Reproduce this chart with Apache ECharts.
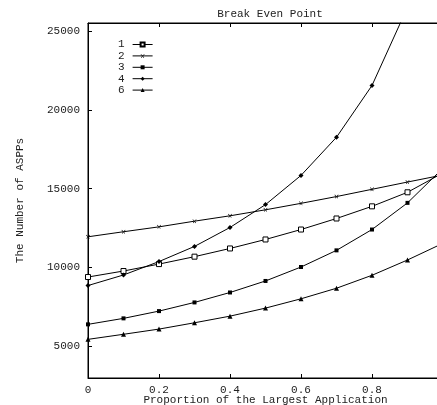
<!DOCTYPE html>
<html>
<head>
<meta charset="utf-8">
<script src="https://cdn.jsdelivr.net/npm/echarts@6/dist/echarts.min.js"></script>
<style>html,body{margin:0;padding:0;background:#fff;}#c{width:437px;height:405px;}</style>
</head>
<body>
<div id="c"></div>
<script>
const xValues = [0, 0.1, 0.2, 0.3, 0.4, 0.5, 0.6, 0.7, 0.8, 0.9, 1.0];
const s1 = [9400, 9780, 10220, 10690, 11210, 11780, 12410, 13110, 13880, 14770, 16000];
const s2 = [11950, 12270, 12580, 12940, 13280, 13660, 14070, 14500, 14960, 15420, 15870];
const s3 = [6400, 6780, 7240, 7790, 8420, 9150, 10035, 11090, 12410, 14100, 16300];
const s4 = [8860, 9530, 10380, 11340, 12540, 13990, 15840, 18260, 21540, 26500, 33000];
const s6 = [5450, 5770, 6100, 6500, 6920, 7430, 8020, 8690, 9510, 10480, 11540];
const seriesNames = ['1', '2', '3', '4', '6'];
const yTickValues = [5000, 10000, 15000, 20000, 25000];

const FONT = 'Liberation Mono';
const TXT = '#222';

function pts(arr) { return xValues.map((x, i) => [x, arr[i]]); }

const symbols = {
  '1': { symbol: 'rect', symbolSize: 5, itemStyle: { color: '#fff', borderColor: '#000', borderWidth: 1 } },
  '2': { symbol: 'path://M1,1L9,9L8,10L0,2ZM9,1L1,9L2,10L10,2Z', symbolSize: 4, itemStyle: { color: '#000' } },
  '3': { symbol: 'rect', symbolSize: 4, itemStyle: { color: '#000' } },
  '4': { symbol: 'diamond', symbolSize: 5, itemStyle: { color: '#000' } },
  '6': { symbol: 'triangle', symbolSize: 5, itemStyle: { color: '#000' } }
};
const dataMap = { '1': s1, '2': s2, '3': s3, '4': s4, '6': s6 };

const chart = echarts.init(document.getElementById('c'), null, { renderer: 'canvas' });
chart.setOption({
  animation: false,
  backgroundColor: '#fff',
  title: {
    text: 'Break Even Point',
    left: 265, top: 4, textAlign: 'center',
    textStyle: { fontFamily: FONT, fontSize: 11, fontWeight: 'normal', color: TXT }
  },
  legend: {
    orient: 'vertical', left: 113, top: 34, align: 'right',
    itemWidth: 20, itemHeight: 5, itemGap: 0.4,
    lineStyle: { width: 1 },
    textStyle: { fontFamily: FONT, fontSize: 11, color: TXT, lineHeight: 11, padding: [0, 3, 0, 0] },
    data: seriesNames
  },
  grid: { left: 88, top: 23, width: 355, height: 355, show: true, borderColor: '#000', borderWidth: 1, outerBoundsMode: 'none', containLabel: false },
  xAxis: [{
    type: 'value', min: 0, max: 1, interval: 0.2, position: 'bottom',
    name: 'Proportion of the Largest Application', nameLocation: 'middle', nameGap: 22, nameMoveOverlap: false,
    nameTextStyle: { fontFamily: FONT, fontSize: 11, color: TXT, verticalAlign: 'middle' },
    axisLine: { show: true, lineStyle: { color: '#000', width: 1 } },
    axisTick: { show: true, inside: true, length: 4, lineStyle: { color: '#000' } },
    axisLabel: { margin: 7, fontFamily: FONT, fontSize: 11, color: TXT, formatter: v => (v === 0 ? '0' : String(+v.toFixed(1))) },
    splitLine: { show: false }
  }, {
    type: 'value', min: 0, max: 1, interval: 0.2, position: 'top',
    axisLine: { show: true, lineStyle: { color: '#000', width: 1 } },
    axisTick: { show: true, inside: true, length: 4, lineStyle: { color: '#000' } },
    axisLabel: { show: false }, splitLine: { show: false }
  }],
  yAxis: {
    type: 'value', min: 3000, max: 25500,
    name: 'The Number of ASPPs', nameLocation: 'middle', nameGap: 62, nameRotate: 90, nameMoveOverlap: false,
    nameTextStyle: { fontFamily: FONT, fontSize: 11, color: TXT },
    axisLine: { show: true, lineStyle: { color: '#000', width: 1 } },
    axisTick: { show: true, inside: true, length: 4, lineStyle: { color: '#000' }, customValues: yTickValues },
    axisLabel: { margin: 8, fontFamily: FONT, fontSize: 11, color: TXT, customValues: yTickValues, formatter: v => String(v) },
    splitLine: { show: false }
  },
  series: seriesNames.map(n => Object.assign({
    name: n, type: 'line', data: pts(dataMap[n]), clip: true,
    showAllSymbol: true,
    lineStyle: { color: '#000', width: 1 },
    emphasis: { disabled: true }
  }, symbols[n]))
});
</script>
</body>
</html>
